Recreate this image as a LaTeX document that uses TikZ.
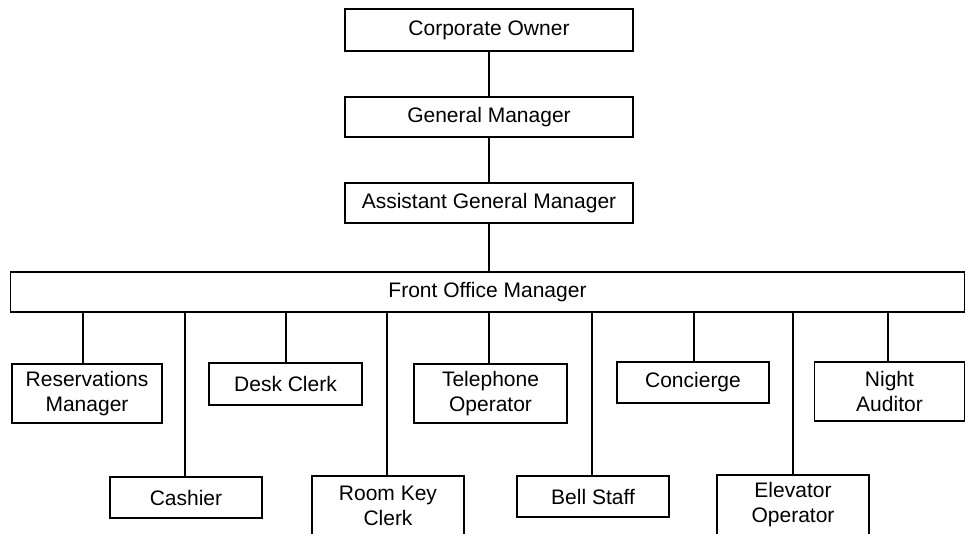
\documentclass[tikz,border=0pt]{standalone}
\usepackage{fontspec}
\setmainfont{Liberation Sans}
\begin{document}
\begin{tikzpicture}[x=1pt,y=-1pt,
  box/.style={draw=black, line width=1.2pt, inner sep=0pt, outer sep=0pt, align=center,
    font=\fontsize{21}{25}\selectfont},
  cutbox/.style={box, draw=none},
  link/.style={draw=black, line width=1.2pt}]
\useasboundingbox (0,0) rectangle (966,533);
\clip (0,0) rectangle (966,533);
% top chain
\node[box, minimum width=288, minimum height=42] (co)  at (489,30)  {Corporate Owner};
\node[box, minimum width=288, minimum height=40] (gm)  at (489,117) {General Manager};
\node[box, minimum width=288, minimum height=40] (agm) at (489,203) {Assistant General Manager};
\node[box, minimum width=954, minimum height=40] (fom) at (487.5,292) {Front Office Manager};
% first row
\node[box, minimum width=150, minimum height=59] (res)  at (87,393.5)  {Reservations\\Manager};
\node[box, minimum width=153, minimum height=42] (desk) at (285.5,384) {Desk Clerk};
\node[box, minimum width=153, minimum height=59] (tel)  at (490.5,393.5) {Telephone\\Operator};
\node[box, minimum width=152, minimum height=41] (conc) at (693,382.5) {Concierge};
\node[box, minimum width=150, minimum height=59] (night) at (889.5,391.5) {Night\\Auditor};
% second row
\node[box, minimum width=152, minimum height=41] (cash) at (186,497.5) {Cashier};
\node[cutbox, minimum width=152, minimum height=59] (room) at (388,505.5) {Room Key\\Clerk};
\node[box, minimum width=152, minimum height=41] (bell) at (593,496.5) {Bell Staff};
\node[cutbox, minimum width=152, minimum height=59] (elev) at (793,504.5) {Elevator\\Operator};
% boxes running past the lower edge
\draw[link] (room.north west) rectangle ([yshift=-12]room.south east);
\draw[link] (elev.north west) rectangle ([yshift=-12]elev.south east);
% connectors
\draw[link] (co.south) -- (gm.north);
\draw[link] (gm.south) -- (agm.north);
\draw[link] (agm.south) -- (agm.south |- fom.north);
\draw[link] ([xshift=-4]res.north) -- ([xshift=-4]res.north |- fom.south);
\draw[link] ([xshift=-1]cash.north) -- ([xshift=-1]cash.north |- fom.south);
\draw[link] ([xshift=0.5]desk.north) -- ([xshift=0.5]desk.north |- fom.south);
\draw[link] ([xshift=-1]room.north) -- ([xshift=-1]room.north |- fom.south);
\draw[link] ([xshift=-1.5]tel.north) -- ([xshift=-1.5]tel.north |- fom.south);
\draw[link] ([xshift=-1]bell.north) -- ([xshift=-1]bell.north |- fom.south);
\draw[link] ([xshift=1]conc.north) -- ([xshift=1]conc.north |- fom.south);
\draw[link] (elev.north) -- (elev.north |- fom.south);
\draw[link] ([xshift=-1.5]night.north) -- ([xshift=-1.5]night.north |- fom.south);
\end{tikzpicture}
\end{document}
